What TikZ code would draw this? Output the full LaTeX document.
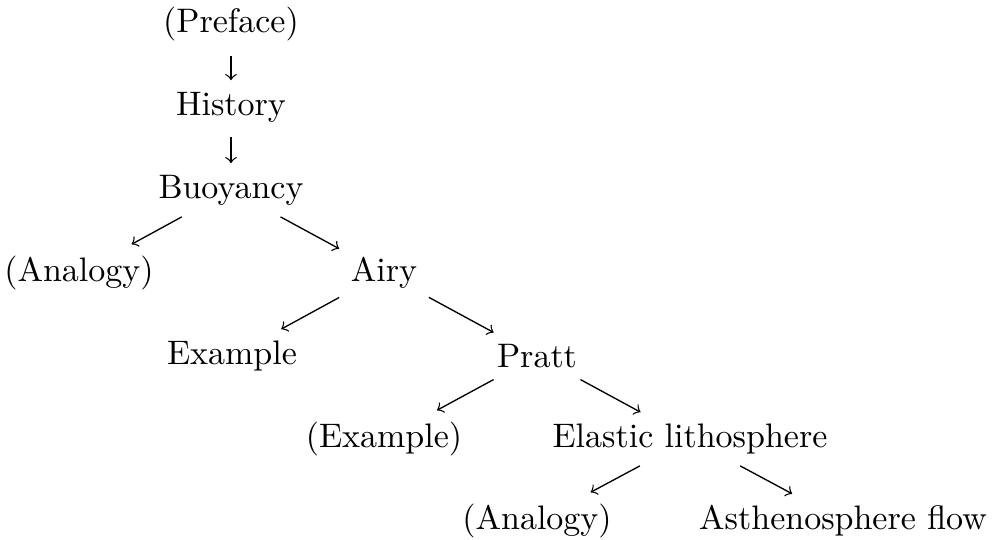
\documentclass[tikz,border=0pt]{standalone}
\begin{document}
\begin{tikzpicture}[x=0.3pt,y=-0.3pt,
  tnode/.style={inner sep=3.33pt,font=\fontsize{10.2}{12}\selectfont},
  tedge/.style={->},
  vedge/.style={->,shorten <=1pt}]
\useasboundingbox (0,0) rectangle (992,539);
\node[tnode] (pref) at (231,24) {(Preface)};
\node[tnode] (hist) at (231,107) {History};
\node[tnode] (buoy) at (231,190) {Buoyancy};
\node[tnode] (ana1) at (79,273) {(Analogy)};
\node[tnode] (airy) at (384,273) {Airy};
\node[tnode] (exa1) at (232,356) {Example};
\node[tnode] (prat) at (537,356) {Pratt};
\node[tnode] (exa2) at (384,439) {(Example)};
\node[tnode] (elas) at (690,439) {Elastic lithosphere};
\node[tnode] (ana2) at (537,521) {(Analogy)};
\node[tnode] (asth) at (843,521) {Asthenosphere flow};
\draw[vedge] (pref) -- (hist);
\draw[vedge] (hist) -- (buoy);
\draw[tedge] (buoy) -- (ana1);
\draw[tedge] (buoy) -- (airy);
\draw[tedge] (airy) -- (exa1);
\draw[tedge] (airy) -- (prat);
\draw[tedge] (prat) -- (exa2);
\draw[tedge] (prat) -- (elas);
\draw[tedge] (elas) -- (ana2);
\draw[tedge] (elas) -- (asth);
\end{tikzpicture}
\end{document}
